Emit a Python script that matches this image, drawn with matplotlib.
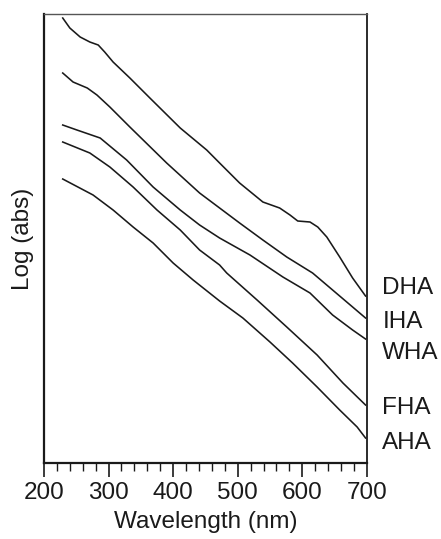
import matplotlib
matplotlib.use("Agg")
import matplotlib.pyplot as plt
from matplotlib.ticker import MultipleLocator

plt.rcParams['font.family'] = ['Liberation Sans', 'DejaVu Sans']

# spectra (arbitrary log-abs units)
dha_nm = [229, 240, 256, 271, 284, 294, 307, 333, 364, 411, 452, 472, 503, 539,
          565, 581, 593, 612, 624, 638, 658, 678, 698]
dha_y = [445, 435, 426, 421, 418, 411, 401, 385, 365, 335, 313, 300, 280, 261,
         255, 248, 242, 241, 236, 226, 206, 185, 167]

iha_nm = [229, 245, 267, 282, 302, 333, 390, 441, 472, 503, 539, 576, 616, 647,
          678, 698]
iha_y = [390, 381, 375, 368, 356, 336, 300, 270, 255, 240, 223, 206, 190, 173,
         156, 145]

wha_nm = [229, 251, 287, 328, 369, 411, 441, 472, 519, 570, 612, 647, 678, 698]
wha_y = [338, 333, 325, 303, 276, 253, 238, 225, 208, 186, 170, 148, 133, 124]

fha_nm = [229, 271, 302, 338, 375, 411, 441, 472, 483, 530, 576, 623, 663, 698]
fha_y = [321, 310, 296, 276, 253, 233, 213, 198, 190, 163, 136, 108, 80, 58]

aha_nm = [229, 276, 307, 338, 369, 400, 431, 472, 508, 550, 585, 623, 658, 685, 698]
aha_y = [284, 268, 253, 236, 220, 200, 183, 162, 145, 121, 100, 76, 53, 36, 25]

labels = ["DHA", "IHA", "WHA", "FHA", "AHA"]
label_y = [175, 141, 110, 55, 20]

fig = plt.figure(figsize=(4.41, 5.39), dpi=100)
ax = fig.add_axes([0.0998, 0.141, 0.732, 0.833])

for xs, ys in [(dha_nm, dha_y), (iha_nm, iha_y), (wha_nm, wha_y),
               (fha_nm, fha_y), (aha_nm, aha_y)]:
    ax.plot(xs, ys, color='#1a1a1a', lw=1.15, solid_joinstyle='round')

for lab, y in zip(labels, label_y):
    ax.text(724, y, lab, fontsize=17.5, ha='left', va='center', color='#1a1a1a',
            clip_on=False)

ax.set_xlim(200, 700)
ax.set_ylim(0, 449)
ax.xaxis.set_major_locator(MultipleLocator(100))
ax.xaxis.set_minor_locator(MultipleLocator(20))
ax.tick_params(axis='x', which='major', direction='out', length=10, width=1.2,
               labelsize=17.5, pad=4, colors='#1a1a1a')
ax.tick_params(axis='x', which='minor', direction='out', length=6, width=1.0,
               colors='#1a1a1a')
ax.set_yticks([])

ax.spines['left'].set_linewidth(1.6)
ax.spines['bottom'].set_linewidth(1.6)
ax.spines['right'].set_linewidth(1.3)
ax.spines['top'].set_linewidth(1.0)
ax.spines['top'].set_color('#555555')
for s in ['left', 'bottom', 'right']:
    ax.spines[s].set_color('#1a1a1a')

ax.set_xlabel("Wavelength (nm)", fontsize=17.5, labelpad=5, color='#1a1a1a')
ax.set_ylabel("Log (abs)", fontsize=17.5, labelpad=7, color='#1a1a1a')

fig.savefig("out.png", dpi=100)
